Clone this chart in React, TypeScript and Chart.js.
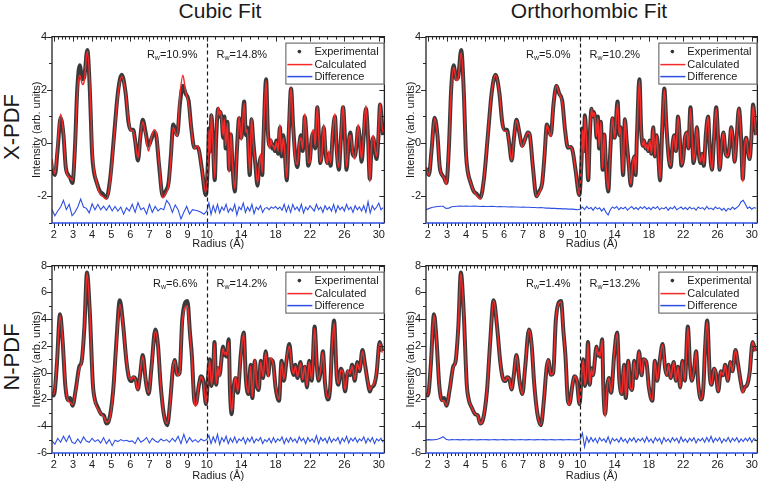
import React, { useEffect, useRef } from 'react';
import { Chart, registerables, LinearScale } from 'chart.js';

Chart.register(...registerables);

// ---------- data ----------
const X_TICKS = [2, 3, 4, 5, 6, 7, 8, 9, 10, 14, 18, 22, 26, 30];
const xpdfYTicks = [-2, 0, 2, 4];
const npdfYTicks = [-6, -4, -2, 0, 2, 4, 6, 8];

const xpdfR = [
  1.9, 2.05, 2.2, 2.35, 2.5, 2.62, 2.75, 2.85, 2.97, 3.1,
  3.22, 3.35, 3.5, 3.58, 3.75, 3.88, 4.0, 4.1, 4.25, 4.4,
  4.55, 4.75, 4.95, 5.15, 5.35, 5.55, 5.75, 5.9, 6.0, 6.15,
  6.25, 6.4, 6.52, 6.65, 6.8, 6.95, 7.1, 7.25, 7.35, 7.5,
  7.7, 7.85, 8.0, 8.12, 8.25, 8.35, 8.45, 8.6, 8.75, 8.9,
  9.05, 9.2, 9.35, 9.5, 9.6, 9.75, 9.95, 10.15, 10.27, 10.4,
  10.54, 10.7, 10.93, 11.1, 11.32, 11.45, 11.59, 11.75, 11.9, 12.05,
  12.2, 12.4, 12.6, 12.8, 13.0, 13.26, 13.5, 13.76, 14.0, 14.35,
  14.55, 14.7, 15.0, 15.2, 15.4, 15.65, 15.9, 16.1, 16.3, 16.45,
  16.6, 16.9, 17.1, 17.3, 17.45, 17.6, 17.75, 17.9, 18.1, 18.3,
  18.5, 18.7, 18.9, 19.1, 19.3, 19.55, 19.8, 20.05, 20.3, 20.55,
  20.75, 20.95, 21.15, 21.4, 21.6, 21.8, 22.0, 22.2, 22.45, 22.6,
  22.85, 23.05, 23.2, 23.4, 23.6, 23.8, 24.0, 24.2, 24.4, 24.65,
  24.9, 25.1, 25.35, 25.6, 25.85, 26.05, 26.25, 26.5, 26.7, 26.95,
  27.2, 27.4, 27.6, 27.8, 28.0, 28.25, 28.5, 28.75, 28.95, 29.15,
  29.35, 29.55, 29.75, 29.95, 30.15, 30.35, 30.5,
];
const xpdfExp = [
  -0.95, -1.2, -0.2, 0.95, 0.3, -0.9, -1.2, -1.3, -1.5, -0.2,
  2.0, 2.92, 2.4, 2.45, 3.5, 2.0, -0.4, -1.1, -1.5, -1.8,
  -1.9, -2.05, -1.3, 0.3, 1.9, 2.57, 1.9, 0.8, 0.5, 0.5,
  0.1, -0.65, 0.2, 0.88, 0.4, -0.1, 0.15, 0.4, 0.3, -0.8,
  -2.0, -1.8, -1.5, -0.5, 0.7, 0.5, 0.3, 1.5, 2.15, 1.85,
  1.6, 0.5, -0.17, -0.15, -0.3, -1.0, -1.95, -0.6, 0.56, -0.3,
  1.05, 0.2, -1.39, 0.2, 1.29, 1.0, 1.17, 0.9, 0.2, 1.0,
  -0.2, 0.8, -1.0, 0.32, -0.9, -1.82, -0.3, 0.93, 0.2, 1.56,
  0.3, 0.6, -1.2, 0.9, 0.1, -0.8, -1.6, -0.8, -0.5, -1.2,
  0.2, 2.4, 0.5, -0.1, 0.1, -0.2, -0.05, -0.3, 0.1, -0.4,
  0.6, -0.5, 0.3, -0.5, -1.4, 0.5, 2.05, 0.6, -0.5, -0.9,
  -0.1, 0.3, -0.3, 1.0, 0.2, -0.85, -0.6, 0.2, 0.4, -0.2,
  1.35, 0.2, -0.75, -0.3, 0.6, -0.3, -0.75, -0.4, -0.85, 0.35,
  1.0, -0.2, -1.0, 0.2, 1.35, 0.3, -1.0, 0.0, 0.4, -0.4,
  -0.5, -0.1, 0.6, 0.1, -0.7, 0.3, 1.3, 0.2, -1.35, -0.2,
  0.2, -0.3, -0.6, 0.2, 1.45, 0.8, 0.3,
];
const xpdfCubic = [
  -0.6, -1.15, 0.0, 1.08, 0.4, -0.9, -1.25, -1.3, -1.4, -0.3,
  1.8, 2.55, 2.2, 2.3, 3.45, 2.2, -0.2, -1.0, -1.5, -1.9,
  -2.0, -2.1, -1.4, 0.2, 1.8, 2.5, 1.9, 0.9, 0.5, 0.45,
  0.1, -0.55, 0.2, 0.8, 0.3, -0.3, 0.2, 0.5, 0.4, -0.7,
  -2.05, -1.9, -1.6, -0.6, 0.6, 0.4, 0.25, 1.8, 2.55, 1.9,
  1.5, 0.5, -0.2, -0.1, -0.3, -1.0, -1.85, -0.7, 0.5, -0.4,
  1.1, 0.1, -1.3, 0.3, 1.35, 1.05, 1.2, 0.85, 0.3, 0.9,
  -0.1, 0.75, -1.1, 0.4, -0.8, -1.7, -0.4, 1.0, 0.1, 1.5,
  0.4, 0.5, -1.1, 0.95, 0.0, -0.7, -1.5, -0.9, -0.4, -1.1,
  0.3, 2.35, 0.4, -0.2, 0.15, -0.1, -0.1, -0.25, 0.05, -0.3,
  0.7, -0.4, 0.2, -0.45, -1.3, 0.6, 2.1, 0.5, -0.6, -0.8,
  0.0, 0.2, -0.2, 1.1, 0.1, -0.75, -0.7, 0.3, 0.5, -0.1,
  1.4, 0.1, -0.7, -0.4, 0.7, -0.2, -0.8, -0.3, -0.75, 0.4,
  1.1, -0.3, -0.9, 0.3, 1.4, 0.2, -0.9, 0.1, 0.3, -0.3,
  -0.6, 0.0, 0.7, 0.0, -0.6, 0.4, 1.4, 0.1, -1.45, -0.1,
  0.3, -0.2, -0.5, 0.3, 1.5, 0.7, 0.4,
];
const xpdfOrtho = [
  -0.9, -1.2, -0.2, 0.92, 0.3, -0.9, -1.2, -1.3, -1.55, -0.2,
  1.9, 2.85, 2.35, 2.4, 3.4, 2.0, -0.4, -1.1, -1.5, -1.8,
  -1.95, -2.1, -1.3, 0.3, 1.9, 2.55, 1.9, 0.8, 0.45, 0.45,
  0.1, -0.65, 0.2, 0.85, 0.4, -0.15, 0.15, 0.4, 0.3, -0.8,
  -2.0, -1.85, -1.5, -0.5, 0.68, 0.45, 0.25, 1.5, 2.15, 1.85,
  1.55, 0.5, -0.15, -0.15, -0.3, -1.0, -1.95, -0.6, 0.5, -0.35,
  1.0, 0.2, -1.35, 0.25, 1.3, 1.0, 1.15, 0.9, 0.25, 0.95,
  -0.15, 0.8, -0.95, 0.35, -0.85, -1.75, -0.3, 0.95, 0.2, 1.5,
  0.3, 0.6, -1.15, 0.9, 0.1, -0.8, -1.55, -0.8, -0.5, -1.15,
  0.2, 2.35, 0.5, -0.1, 0.1, -0.2, -0.05, -0.3, 0.1, -0.4,
  0.6, -0.5, 0.3, -0.5, -1.35, 0.5, 2.0, 0.6, -0.5, -0.85,
  -0.1, 0.3, -0.3, 1.0, 0.2, -0.8, -0.6, 0.2, 0.4, -0.2,
  1.3, 0.2, -0.7, -0.3, 0.6, -0.3, -0.7, -0.4, -0.8, 0.35,
  1.0, -0.2, -1.0, 0.2, 1.3, 0.3, -1.0, 0.0, 0.4, -0.4,
  -0.5, -0.1, 0.6, 0.1, -0.7, 0.3, 1.3, 0.2, -1.45, -0.2,
  0.2, -0.3, -0.6, 0.2, 1.4, 0.8, 0.3,
];

const npdfR = [
  1.88, 2.0, 2.15, 2.32, 2.45, 2.6, 2.74, 2.85, 2.97, 3.15,
  3.33, 3.45, 3.6, 3.73, 3.88, 4.04, 4.16, 4.3, 4.48, 4.62,
  4.74, 4.88, 5.1, 5.27, 5.45, 5.62, 5.8, 5.93, 6.07, 6.16,
  6.28, 6.39, 6.51, 6.65, 6.81, 6.96, 7.1, 7.31, 7.45, 7.58,
  7.75, 7.93, 8.1, 8.23, 8.32, 8.46, 8.58, 8.72, 8.99, 9.12,
  9.22, 9.35, 9.43, 9.58, 9.7, 9.82, 9.96, 10.15, 10.35, 10.55,
  10.75, 10.9, 11.1, 11.3, 11.45, 11.55, 11.9, 12.05, 12.2, 12.3,
  12.55, 12.7, 12.9, 13.1, 13.35, 13.6, 13.95, 14.3, 14.55, 14.85,
  15.1, 15.3, 15.6, 15.8, 16.05, 16.27, 16.55, 16.85, 17.15, 17.35,
  17.7, 18.0, 18.4, 18.7, 18.96, 19.27, 19.6, 19.9, 20.1, 20.3,
  20.55, 20.9, 21.15, 21.4, 21.65, 21.9, 22.2, 22.54, 22.8, 23.0,
  23.3, 23.5, 23.75, 24.08, 24.35, 24.55, 24.8, 25.1, 25.3, 25.6,
  25.8, 26.08, 26.4, 26.65, 26.9, 27.2, 27.5, 27.75, 28.1, 28.4,
  28.77, 28.95, 29.15, 29.46, 29.75, 30.1, 30.4,
];
const npdfExp = [
  -1.6, -1.7, 0.5, 4.37, 2.5, -1.0, -2.05, -1.9, -2.47, -1.2,
  0.46, 0.83, 3.5, 7.48, 4.5, -0.88, -2.1, -2.6, -3.1, -3.2,
  -3.8, -3.57, -1.37, 2.3, 5.42, 3.6, 0.8, -0.39, -0.63, -0.34,
  -0.5, -1.25, -0.2, 1.32, -0.63, -1.6, 0.3, 3.22, 2.0, -0.8,
  -3.08, -3.93, -1.9, 0.34, 0.95, -0.15, 0.0, 4.0, 5.35, 3.0,
  1.3, -2.1, -2.35, -1.0, -0.27, -0.6, -2.35, -0.3, 1.0, -1.0,
  0.2, 2.3, -0.9, 0.34, -0.2, 0.0, 1.95, 1.3, 1.6, 1.2,
  2.5, -1.3, -3.1, -1.3, -0.4, -1.5, 1.3, 3.0, -0.5, -1.6,
  0.6, -1.9, 0.9, -0.9, -1.3, 0.9, -0.4, 1.6, -0.2, 1.0,
  0.8, -1.1, -2.1, 0.9, -0.6, 0.9, 2.15, 0.3, -0.17, 0.6,
  -0.4, 0.8, -0.6, 0.45, -1.1, 0.9, -0.6, 3.45, 0.5, -0.6,
  0.4, 1.6, -0.8, -2.0, -1.1, 1.8, 3.9, -0.2, -0.9, 0.3,
  0.0, -1.4, 0.1, -0.2, 0.6, -0.6, 0.8, 0.1, 1.7, 0.6,
  -0.9, -1.4, -1.1, -0.9, 0.0, 2.3, 1.6,
];
const npdfCubic = [
  -1.5, -1.6, 0.6, 4.25, 2.6, -0.8, -2.1, -2.2, -2.4, -1.3,
  0.3, 0.8, 3.6, 7.45, 4.6, -0.9, -2.2, -2.7, -3.1, -3.3,
  -3.7, -3.6, -1.5, 2.0, 5.1, 3.5, 0.9, -0.3, -0.5, -0.3,
  -0.6, -1.3, -0.1, 1.2, -0.6, -1.5, 0.2, 3.1, 2.0, -0.7,
  -3.1, -3.8, -2.0, 0.4, 0.9, -0.2, 0.0, 3.8, 5.0, 2.9,
  1.2, -2.2, -2.5, -1.0, -0.3, -0.7, -2.3, -0.4, 0.9, -0.9,
  0.3, 2.2, -0.8, 0.4, -0.3, 0.1, 1.8, 1.4, 1.5, 1.3,
  2.3, -1.2, -2.9, -1.4, -0.3, -1.4, 1.2, 2.9, -0.4, -1.5,
  0.5, -1.8, 1.0, -0.8, -1.2, 0.8, -0.3, 1.5, -0.3, 1.1,
  0.7, -1.0, -2.0, 0.8, -0.5, 1.0, 2.0, 0.4, -0.1, 0.5,
  -0.3, 0.7, -0.5, 0.5, -1.0, 0.8, -0.5, 3.3, 0.4, -0.5,
  0.5, 1.5, -0.7, -1.9, -1.0, 1.7, 3.7, -0.1, -0.8, 0.2,
  0.1, -1.3, 0.2, -0.1, 0.5, -0.5, 0.7, 0.2, 1.6, 0.5,
  -0.8, -1.3, -1.0, -0.8, 0.1, 2.2, 1.5,
];
const npdfOrtho = [
  -1.6, -1.65, 0.5, 4.3, 2.5, -1.0, -2.1, -2.1, -2.45, -1.2,
  0.4, 0.8, 3.5, 7.45, 4.5, -0.9, -2.1, -2.6, -3.1, -3.2,
  -3.8, -3.55, -1.4, 2.3, 5.4, 3.6, 0.8, -0.4, -0.6, -0.35,
  -0.5, -1.25, -0.2, 1.3, -0.63, -1.6, 0.3, 3.2, 2.0, -0.8,
  -3.1, -3.9, -1.9, 0.34, 0.95, -0.15, 0.0, 4.0, 5.3, 3.0,
  1.3, -2.1, -2.4, -1.0, -0.27, -0.6, -2.35, -0.3, 0.95, -0.95,
  0.2, 2.25, -0.9, 0.3, -0.2, 0.0, 1.9, 1.3, 1.55, 1.2,
  2.45, -1.3, -3.3, -1.3, -0.4, -1.5, 1.3, 2.95, -0.5, -1.6,
  0.6, -1.85, 0.9, -0.9, -1.3, 0.85, -0.4, 1.6, -0.2, 1.0,
  0.8, -1.1, -2.05, 0.9, -0.6, 0.9, 2.1, 0.3, -0.2, 0.6,
  -0.4, 0.8, -0.6, 0.45, -1.1, 0.9, -0.6, 3.4, 0.5, -0.6,
  0.4, 1.6, -0.8, -2.0, -1.1, 1.8, 3.85, -0.2, -0.9, 0.3,
  0.0, -1.4, 0.1, -0.2, 0.6, -0.6, 0.8, 0.1, 1.7, 0.6,
  -0.9, -1.5, -1.1, -0.9, 0.0, 2.3, 1.6,
];

const diffR = [
  1.9, 2.05, 2.2, 2.35, 2.5, 2.65, 2.8, 2.95, 3.1, 3.25,
  3.4, 3.55, 3.7, 3.85, 4.0, 4.15, 4.3, 4.45, 4.6, 4.75,
  4.9, 5.05, 5.2, 5.35, 5.5, 5.65, 5.8, 5.95, 6.1, 6.25,
  6.4, 6.55, 6.7, 6.85, 7.0, 7.15, 7.3, 7.45, 7.6, 7.75,
  7.9, 8.05, 8.2, 8.35, 8.5, 8.65, 8.8, 8.95, 9.1, 9.25,
  9.4, 9.55, 9.7, 9.85, 10.0,
  10.25, 10.5, 10.75, 11, 11.25, 11.5, 11.75, 12, 12.25, 12.5,
  12.75, 13, 13.25, 13.5, 13.75, 14, 14.25, 14.5, 14.75, 15,
  15.25, 15.5, 15.75, 16, 16.25, 16.5, 16.75, 17, 17.25, 17.5,
  17.75, 18, 18.25, 18.5, 18.75, 19, 19.25, 19.5, 19.75, 20,
  20.25, 20.5, 20.75, 21, 21.25, 21.5, 21.75, 22, 22.25, 22.5,
  22.75, 23, 23.25, 23.5, 23.75, 24, 24.25, 24.5, 24.75, 25,
  25.25, 25.5, 25.75, 26, 26.25, 26.5, 26.75, 27, 27.25, 27.5,
  27.75, 28, 28.25, 28.5, 28.75, 29, 29.25, 29.5, 29.75, 30,
  30.25, 30.5,
];
const xpdfDiffCubic = [
  -2.49, -2.73, -2.55, -2.4, -2.15, -2.5, -2.3, -2.72, -2.6, -2.4,
  -2.1, -2.4, -2.45, -2.62, -2.28, -2.5, -2.3, -2.5, -2.37, -2.52,
  -2.34, -2.55, -2.38, -2.55, -2.4, -2.67, -2.43, -2.55, -2.3, -2.6,
  -2.24, -2.5, -2.43, -2.66, -2.3, -2.6, -2.38, -2.55, -2.45, -2.5,
  -2.15, -2.3, -2.6, -2.32, -2.5, -2.85, -2.6, -2.38, -2.66, -2.5,
  -2.52, -2.55, -2.6, -2.67, -2.55,
  -2.25, -2.68, -2.35, -2.6, -2.3, -2.62, -2.4, -2.52, -2.3, -2.6,
  -2.45, -2.55, -2.3, -2.7, -2.4, -2.5, -2.25, -2.6, -2.4, -2.55,
  -2.3, -2.65, -2.4, -2.5, -2.35, -2.6, -2.45, -2.42, -2.5, -2.4,
  -2.45, -2.38, -2.48, -2.4, -2.52, -2.3, -2.58, -2.35, -2.6, -2.3,
  -2.5, -2.4, -2.55, -2.3, -2.62, -2.4, -2.5, -2.35, -2.45, -2.55,
  -2.3, -2.5, -2.4, -2.6, -2.35, -2.5, -2.4, -2.55, -2.3, -2.6,
  -2.35, -2.5, -2.4, -2.55, -2.3, -2.5, -2.4, -2.6, -2.35, -2.5,
  -2.4, -2.55, -2.35, -2.6, -2.2, -2.62, -2.35, -2.5, -2.4, -2.25,
  -2.5, -2.42,
];
const xpdfDiffOrtho = [
  -2.5, -2.46, -2.42, -2.4, -2.38, -2.37, -2.37, -2.45, -2.44, -2.39,
  -2.38, -2.37, -2.36, -2.37, -2.36, -2.37, -2.37, -2.36, -2.37, -2.38,
  -2.37, -2.38, -2.38, -2.37, -2.38, -2.39, -2.38, -2.39, -2.39, -2.4,
  -2.39, -2.4, -2.4, -2.41, -2.4, -2.41, -2.41, -2.42, -2.42, -2.43,
  -2.42, -2.43, -2.44, -2.44, -2.45, -2.45, -2.46, -2.46, -2.47, -2.47,
  -2.48, -2.48, -2.49, -2.5, -2.48,
  -2.4, -2.5, -2.38, -2.47, -2.42, -2.52, -2.4, -2.48, -2.43, -2.55,
  -2.45, -2.6, -2.7, -2.5, -2.4, -2.45, -2.38, -2.5, -2.42, -2.47,
  -2.4, -2.52, -2.44, -2.38, -2.48, -2.42, -2.5, -2.4, -2.46, -2.38,
  -2.48, -2.42, -2.5, -2.4, -2.46, -2.38, -2.5, -2.43, -2.47, -2.4,
  -2.52, -2.42, -2.47, -2.38, -2.5, -2.45, -2.4, -2.48, -2.42, -2.5,
  -2.4, -2.47, -2.43, -2.52, -2.4, -2.46, -2.42, -2.5, -2.38, -2.48,
  -2.44, -2.5, -2.4, -2.46, -2.43, -2.52, -2.45, -2.55, -2.45, -2.5,
  -2.4, -2.48, -2.42, -2.35, -2.2, -2.15, -2.3, -2.45, -2.4, -2.48,
  -2.42, -2.45,
];
const npdfDiffCubic = [
  -5.1, -5.35, -4.9, -5.2, -4.75, -5.15, -4.7, -5.2, -5.3, -4.95,
  -5.25, -4.8, -5.1, -5.2, -4.9, -5.15, -5.0, -5.25, -4.85, -5.3,
  -5.0, -5.45, -5.05, -5.15, -5.0, -5.1, -5.05, -5.15, -5.1, -5.3,
  -4.85, -5.2, -5.05, -4.85, -5.25, -4.9, -5.1, -5.2, -4.95, -5.1,
  -5.0, -5.2, -4.9, -5.15, -4.75, -5.3, -4.6, -5.25, -4.85, -5.15,
  -5.0, -5.2, -4.95, -5.1, -5.0,
  -4.7, -5.3, -4.8, -5.2, -4.6, -5.35, -4.85, -5.15, -4.75, -5.3,
  -4.9, -5.2, -4.8, -5.25, -4.95, -5.1, -4.85, -5.3, -4.9, -5.15,
  -4.8, -5.25, -4.95, -5.1, -4.85, -5.3, -5.0, -5.15, -4.9, -5.25,
  -4.85, -5.2, -4.95, -5.1, -4.8, -5.3, -4.9, -5.2, -4.85, -5.15,
  -4.95, -5.25, -4.8, -5.1, -4.9, -5.3, -4.85, -5.15, -4.95, -5.2,
  -4.7, -5.3, -4.85, -5.1, -4.9, -5.25, -4.8, -5.2, -4.95, -5.1,
  -4.85, -5.3, -4.9, -5.15, -4.75, -5.25, -4.9, -5.1, -4.85, -5.2,
  -4.95, -5.1, -4.8, -5.25, -4.9, -5.15, -4.85, -5.3, -4.95, -5.1,
  -4.9, -5.2,
];
const npdfDiffOrtho = [
  -5.02, -5.0, -5.02, -5.0, -4.97, -4.9, -4.78, -4.97, -5.03, -5.0,
  -5.01, -5.0, -5.02, -5.0, -5.01, -5.02, -5.0, -5.01, -5.02, -5.0,
  -5.01, -5.0, -5.02, -5.01, -5.0, -5.02, -5.01, -5.0, -5.02, -5.01,
  -5.0, -5.02, -5.01, -5.0, -5.01, -5.02, -5.0, -5.01, -5.02, -5.0,
  -5.01, -5.0, -5.02, -5.01, -5.0, -5.02, -5.01, -5.0, -5.02, -5.01,
  -5.0, -5.01, -5.02, -5.0, -4.95,
  -4.5, -5.55, -4.8, -5.2, -4.85, -5.15, -4.9, -5.25, -4.85, -5.1,
  -4.95, -5.2, -4.8, -5.3, -4.9, -5.1, -4.95, -5.2, -4.85, -5.15,
  -4.95, -5.25, -4.9, -5.1, -4.85, -5.2, -4.95, -5.1, -4.9, -5.2,
  -4.8, -5.15, -4.95, -5.25, -4.85, -5.1, -4.9, -5.3, -4.85, -5.15,
  -4.95, -5.2, -4.85, -5.1, -4.9, -5.25, -4.8, -5.15, -4.95, -5.2,
  -4.9, -5.1, -4.85, -5.25, -4.95, -5.1, -4.9, -5.2, -4.85, -5.15,
  -4.75, -5.2, -4.9, -5.1, -4.85, -5.25, -4.95, -5.15, -4.85, -5.2,
  -4.9, -5.1, -4.85, -5.2, -4.95, -5.15, -4.9, -5.1, -4.85, -5.2,
  -4.9, -5.05,
];

// ---------- styling ----------
const FONT = '"Liberation Sans", Arial, Helvetica, sans-serif';
const TXT = '#1a1a1a';
const RED = '#f42a2a';
const BLUE = '#2e4fe3';
const DARK = '#3a3a3a';
const BREAK = 10;
const K = 8.6 / 19.1;

const fwd = (v: number) => (v <= BREAK ? v : BREAK + (v - BREAK) * K);
const inv = (u: number) => (u <= BREAK ? u : BREAK + (u - BREAK) / K);

// piecewise (broken) radius axis: 2–10 expanded, 10–30 compressed
class BrokenScale extends LinearScale {
  static id = 'broken';
  static defaults = LinearScale.defaults;
  buildTicks() {
    return X_TICKS.map((v) => ({ value: v }));
  }
  getPixelForValue(value: number) {
    const a = fwd(this.min);
    const b = fwd(this.max);
    return this.getPixelForDecimal((fwd(value) - a) / (b - a));
  }
  getValueForPixel(pixel: number) {
    const a = fwd(this.min);
    const b = fwd(this.max);
    return inv(a + this.getDecimalForPixel(pixel) * (b - a));
  }
}
Chart.register(BrokenScale as any);

function drawRw(ctx: CanvasRenderingContext2D, x: number, y: number, val: string, alignRight: boolean) {
  ctx.font = `11px ${FONT}`;
  const w1 = ctx.measureText('R').width;
  const w3 = ctx.measureText('=' + val).width;
  ctx.font = `7px ${FONT}`;
  const w2 = ctx.measureText('w').width;
  const sx = alignRight ? x - (w1 + w2 + w3) : x;
  ctx.fillStyle = TXT;
  ctx.textAlign = 'left';
  ctx.textBaseline = 'alphabetic';
  ctx.font = `11px ${FONT}`;
  ctx.fillText('R', sx, y);
  ctx.font = `7px ${FONT}`;
  ctx.fillText('w', sx + w1, y + 2);
  ctx.font = `11px ${FONT}`;
  ctx.fillText('=' + val, sx + w1 + w2, y);
}

const decoPlugin = {
  id: 'deco',
  afterDatasetsDraw(chart: any, _args: any, opts: any) {
    const { ctx, chartArea } = chart;
    const { left, right, top, bottom } = chartArea;
    const xs = chart.scales.x;
    const ys = chart.scales.y;
    ctx.save();

    // dashed break line at R = 10
    const xb = Math.round(xs.getPixelForValue(10)) + 0.5;
    ctx.strokeStyle = '#1a1a1a';
    ctx.lineWidth = 1.2;
    ctx.setLineDash([4, 3]);
    ctx.beginPath();
    ctx.moveTo(xb, top);
    ctx.lineTo(xb, bottom);
    ctx.stroke();
    ctx.setLineDash([]);

    // ticks
    ctx.strokeStyle = '#2a2a2a';
    ctx.lineWidth = 1;
    ctx.beginPath();
    const tickX = (v: number, len: number) => {
      const p = Math.round(xs.getPixelForValue(v)) + 0.5;
      ctx.moveTo(p, top);
      ctx.lineTo(p, top + len);
      ctx.moveTo(p, bottom);
      ctx.lineTo(p, bottom + len);
    };
    X_TICKS.forEach((v) => tickX(v, 5));
    for (let i = 11; i < 50; i++) if (i % 5 !== 0) tickX(i * 0.2, 3);
    for (let v = 11; v < 30; v++) if ((v - 10) % 4 !== 0) tickX(v, 3);
    const tickY = (v: number, len: number) => {
      const p = Math.round(ys.getPixelForValue(v)) + 0.5;
      ctx.moveTo(left, p);
      ctx.lineTo(left - len, p);
      ctx.moveTo(right, p);
      ctx.lineTo(right - len, p);
    };
    for (let v = Math.ceil(ys.min); v <= ys.max; v++) {
      tickY(v, opts.yMajor.includes(v) ? 5 : 3);
    }
    ctx.stroke();

    // frame
    ctx.strokeStyle = '#222';
    ctx.lineWidth = 1.3;
    ctx.beginPath();
    ctx.moveTo(left, bottom);
    ctx.lineTo(left, top);
    ctx.lineTo(right, top);
    ctx.lineTo(right, bottom);
    ctx.stroke();
    ctx.strokeStyle = BLUE;
    ctx.lineWidth = 1.6;
    ctx.beginPath();
    ctx.moveTo(left, bottom);
    ctx.lineTo(right, bottom);
    ctx.stroke();

    // R_w annotations
    drawRw(ctx, xb - 10, top + 21, opts.rw[0], true);
    drawRw(ctx, xb + 9, top + 21, opts.rw[1], false);

    // legend box
    const bw = 99;
    const bh = 42;
    const bl = right - bw;
    const bt = top + 6;
    ctx.fillStyle = '#ffffff';
    ctx.fillRect(bl, bt, bw, bh);
    ctx.strokeStyle = '#555';
    ctx.lineWidth = 1;
    ctx.strokeRect(bl + 0.5, bt + 0.5, bw - 1, bh - 1);
    const rows = [bt + 9, bt + 22, bt + 34];
    ctx.fillStyle = '#333';
    ctx.beginPath();
    ctx.arc(bl + 14, rows[0], 1.8, 0, Math.PI * 2);
    ctx.fill();
    ctx.lineWidth = 1.5;
    ctx.strokeStyle = RED;
    ctx.beginPath();
    ctx.moveTo(bl + 2, rows[1]);
    ctx.lineTo(bl + 27, rows[1]);
    ctx.stroke();
    ctx.strokeStyle = BLUE;
    ctx.beginPath();
    ctx.moveTo(bl + 2, rows[2]);
    ctx.lineTo(bl + 27, rows[2]);
    ctx.stroke();
    ctx.fillStyle = TXT;
    ctx.font = `11px ${FONT}`;
    ctx.textAlign = 'left';
    ctx.textBaseline = 'middle';
    ctx.fillText('Experimental', bl + 29, rows[0]);
    ctx.fillText('Calculated', bl + 29, rows[1]);
    ctx.fillText('Difference', bl + 29, rows[2]);

    ctx.restore();
  },
};

type PanelCfg = {
  left: number;
  top: number;
  width: number;
  height: number;
  padBottom: number;
  xAxisH: number;
  R: number[];
  exp: number[];
  calc: number[];
  diff: number[];
  yMin: number;
  yMax: number;
  yTicks: number[];
  rw: string[];
};

const PANELS: PanelCfg[] = [
  { left: 27, top: 25, width: 363, height: 228, padBottom: 2, xAxisH: 28, R: xpdfR, exp: xpdfExp, calc: xpdfCubic, diff: xpdfDiffCubic, yMin: -3, yMax: 4, yTicks: xpdfYTicks, rw: ['10.9%', '14.8%'] },
  { left: 401, top: 25, width: 362, height: 228, padBottom: 2, xAxisH: 28, R: xpdfR, exp: xpdfExp, calc: xpdfOrtho, diff: xpdfDiffOrtho, yMin: -3, yMax: 4, yTicks: xpdfYTicks, rw: ['5.0%', '10.2%'] },
  { left: 27, top: 254, width: 363, height: 229, padBottom: 0, xAxisH: 30, R: npdfR, exp: npdfExp, calc: npdfCubic, diff: npdfDiffCubic, yMin: -6, yMax: 8, yTicks: npdfYTicks, rw: ['6.6%', '14.2%'] },
  { left: 401, top: 254, width: 362, height: 229, padBottom: 0, xAxisH: 30, R: npdfR, exp: npdfExp, calc: npdfOrtho, diff: npdfDiffOrtho, yMin: -6, yMax: 8, yTicks: npdfYTicks, rw: ['1.4%', '13.2%'] },
];

function Panel({ cfg }: { cfg: PanelCfg }) {
  const ref = useRef<HTMLCanvasElement>(null);
  useEffect(() => {
    const pts = (xs: number[], ys: number[]) => xs.map((x, i) => ({ x, y: ys[i] }));
    const chart = new Chart(ref.current as HTMLCanvasElement, {
      type: 'line',
      data: {
        datasets: [
          { label: 'Calculated', data: pts(cfg.R, cfg.calc), borderColor: RED, borderWidth: 1.5, pointRadius: 0, cubicInterpolationMode: 'monotone', order: 1 } as any,
          { label: 'Difference', data: pts(diffR, cfg.diff), borderColor: BLUE, borderWidth: 1.1, pointRadius: 0, tension: 0, order: 2 } as any,
          { label: 'Experimental', data: pts(cfg.R, cfg.exp), borderColor: DARK, borderWidth: 4, pointRadius: 0, cubicInterpolationMode: 'monotone', order: 3 } as any,
        ],
      },
      options: {
        animation: false,
        responsive: false,
        devicePixelRatio: 1,
        events: [],
        layout: { padding: { left: 3, top: 8, right: 5, bottom: cfg.padBottom } },
        plugins: {
          legend: { display: false },
          tooltip: { enabled: false },
          deco: { rw: cfg.rw, yMajor: cfg.yTicks },
        } as any,
        scales: {
          x: {
            type: 'broken' as any,
            min: 1.9,
            max: 30.65,
            grid: { display: false, drawTicks: false },
            border: { display: false },
            ticks: { autoSkip: false, maxRotation: 0, padding: 5, color: TXT, font: { family: FONT, size: 11 }, callback: (v: any) => String(v) },
            title: { display: true, text: 'Radius (Å)', color: TXT, font: { family: FONT, size: 11 }, padding: 0 },
            afterFit: (s: any) => { s.height = cfg.xAxisH; },
          } as any,
          y: {
            type: 'linear',
            min: cfg.yMin,
            max: cfg.yMax,
            grid: { display: false, drawTicks: false },
            border: { display: false },
            afterBuildTicks: (s: any) => { s.ticks = cfg.yTicks.map((v) => ({ value: v })); },
            ticks: { padding: 5, color: TXT, font: { family: FONT, size: 11 }, callback: (v: any) => String(v) },
            title: { display: true, text: 'Intensity (arb. units)', color: TXT, font: { family: FONT, size: 11 }, padding: 0 },
            afterFit: (s: any) => { s.width = 22; },
          } as any,
        },
      },
      plugins: [decoPlugin],
    });
    return () => chart.destroy();
  }, [cfg]);
  return (
    <canvas
      ref={ref}
      width={cfg.width}
      height={cfg.height}
      style={{ position: 'absolute', left: cfg.left, top: cfg.top, width: cfg.width, height: cfg.height }}
    />
  );
}

const labelBase: React.CSSProperties = {
  position: 'absolute',
  fontFamily: FONT,
  color: TXT,
  whiteSpace: 'nowrap',
  lineHeight: 1,
};

export default function App() {
  return (
    <div style={{ position: 'absolute', left: 0, top: 0, width: 766, height: 483, overflow: 'hidden', background: '#fff' }}>
      <div style={{ ...labelBase, fontSize: 21, left: 220, top: 0, transform: 'translateX(-50%)' }}>Cubic Fit</div>
      <div style={{ ...labelBase, fontSize: 21, left: 589, top: 0, transform: 'translateX(-50%)' }}>Orthorhombic Fit</div>
      <div style={{ ...labelBase, fontSize: 22, left: 12, top: 127, transform: 'translate(-50%, -50%) rotate(-90deg)' }}>X-PDF</div>
      <div style={{ ...labelBase, fontSize: 22, left: 12, top: 357, transform: 'translate(-50%, -50%) rotate(-90deg)' }}>N-PDF</div>
      {PANELS.map((p, i) => (
        <Panel key={i} cfg={p} />
      ))}
    </div>
  );
}
